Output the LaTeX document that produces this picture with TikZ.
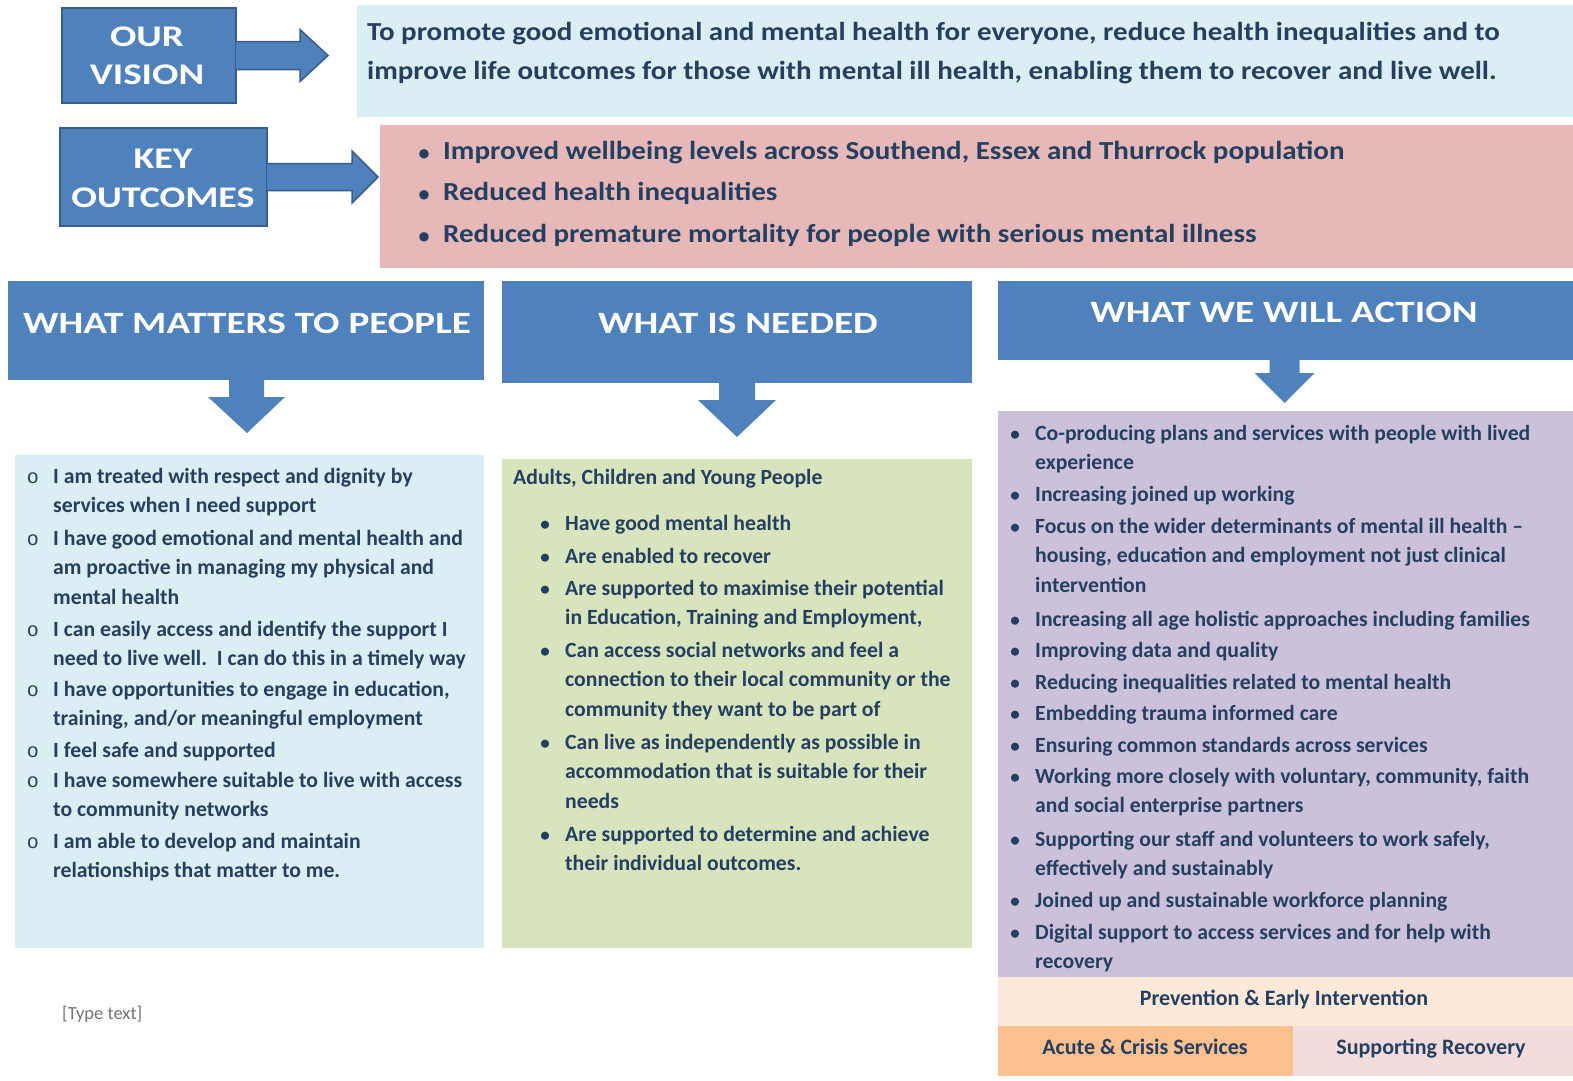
\documentclass[tikz,border=0pt]{standalone}
\usepackage{fontspec}
\setmainfont{Carlito}
\newfontfamily\hdfont{Carlito}[FakeStretch=1.265]
\newfontfamily\boxfont{Carlito}[FakeStretch=1.3]
\newfontfamily\topfont{Carlito}[FakeStretch=1.115]
\newfontfamily\monobul{Liberation Mono}
\usetikzlibrary{calc}
\definecolor{hdblue}{HTML}{4F81BD}
\definecolor{hdedge}{HTML}{385D8A}
\definecolor{txt}{HTML}{243F60}
\definecolor{lblue}{HTML}{DBEEF3}
\definecolor{pinkbox}{HTML}{E6B9B8}
\definecolor{greenbox}{HTML}{D7E4BD}
\definecolor{purplebox}{HTML}{CCC1DA}
\definecolor{peach}{HTML}{FDE9D9}
\definecolor{orangebox}{HTML}{FAC090}
\definecolor{palepink}{HTML}{F2DCDB}
\newcommand\lns[1]{\begin{tabular}[t]{@{}l@{}}#1\end{tabular}}
\newcommand\clns[1]{\begin{tabular}[t]{@{}c@{}}#1\end{tabular}}
\begin{document}
\begin{tikzpicture}[x=1pt,y=-1pt,
  panel/.style={anchor=north west, inner sep=0pt, outer sep=0pt},
  body/.style={anchor=base west, inner sep=0pt, text=txt, font=\fontsize{21.7}{29.8}\selectfont\bfseries},
  big/.style={anchor=base west, inner sep=0pt, text=txt, font=\fontsize{26}{39}\topfont\bfseries},
  dotb/.style={anchor=base, inner sep=0pt, text=txt, font=\fontsize{19}{30}\selectfont\bfseries},
  kdot/.style={anchor=base, inner sep=0pt, text=txt, font=\fontsize{22}{30}\selectfont\bfseries},
  circb/.style={anchor=base, inner sep=0pt, text=txt, font=\fontsize{20}{30}\monobul},
  hd/.style={anchor=base, inner sep=0pt, text=white, font=\fontsize{31}{38}\hdfont\bfseries},
  tag/.style={anchor=base, inner sep=0pt, text=txt, font=\fontsize{22}{24}\selectfont\bfseries},
  blockarrow/.style={fill=hdblue, draw=hdedge, line width=1.5pt, line join=miter},
  downarrow/.style={fill=hdblue, draw=none}
]
\useasboundingbox (0,0) rectangle (1573,1080);

% ---------- top band ----------
\node[panel, fill=lblue, minimum width=1216pt, minimum height=112pt] (visionbg) at (357,5) {};
\node[panel, fill=pinkbox, minimum width=1193pt, minimum height=143pt] (outcomebg) at (380,125) {};

\node[panel, fill=hdblue, draw=hdedge, line width=2pt, minimum width=174pt, minimum height=95pt] (ourvision) at (62,8) {};
\node[panel, fill=hdblue, draw=hdedge, line width=2pt, minimum width=207pt, minimum height=98pt] (keyout) at (60,128) {};

\draw[blockarrow] ($(ourvision.east)+(0,-14)$) -- ++(64,0) -- ++(0,-12) -- ($(ourvision.east)+(92,0)$)
  -- ($(ourvision.east)+(64,26)$) -- ++(0,-12) -- ($(ourvision.east)+(0,14)$);
\draw[blockarrow] ($(keyout.east)+(0,-13.5)$) -- ++(85,0) -- ++(0,-12.5) -- ($(keyout.east)+(111,0)$)
  -- ($(keyout.east)+(85,26)$) -- ++(0,-12.5) -- ($(keyout.east)+(0,13.5)$);

\node[hd, font=\fontsize{30}{38}\boxfont\bfseries] (ourvisiontxt) at (147,46) {\clns{OUR\\VISION}};
\node[hd, font=\fontsize{30}{39}\selectfont\hdfont\bfseries] (keyouttxt) at (163,168) {\clns{KEY\\OUTCOMES}};

\node[big] (visiontxt) at (367,40) {\lns{To promote good emotional and mental health for everyone, reduce health inequalities and to\\improve life outcomes for those with mental ill health, enabling them to recover and live well.}};

\node[kdot] (ko1b) at (424,160) {•};
\node[big] (ko1) at (443,159) {Improved wellbeing levels across Southend, Essex and Thurrock population};
\node[kdot] (ko2b) at (424,201) {•};
\node[big] (ko2) at (443,200) {Reduced health inequalities};
\node[kdot] (ko3b) at (424,243) {•};
\node[big] (ko3) at (443,242) {Reduced premature mortality for people with serious mental illness};

% ---------- column headers ----------
\node[panel, fill=hdblue, minimum width=476pt, minimum height=99pt] (hmatters) at (8,281) {};
\node[panel, fill=hdblue, minimum width=470pt, minimum height=102pt] (hneeded) at (502,281) {};
\node[panel, fill=hdblue, minimum width=575pt, minimum height=79pt] (haction) at (998,281) {};

\node[hd] (hmatterstxt) at (247,333) {WHAT MATTERS TO PEOPLE};
\node[hd] (hneededtxt) at (738,333) {WHAT IS NEEDED};
\node[hd] (hactiontxt) at (1284,322) {WHAT WE WILL ACTION};

\fill[downarrow] ($(hmatters.south)+(-17,0)$) -- ++(0,17) -- ++(-21,0) -- ($(hmatters.south)+(1,53)$)
  -- ($(hmatters.south)+(39,17)$) -- ++(-21,0) -- ($(hmatters.south)+(18,0)$) -- cycle;
\fill[downarrow] ($(hneeded.south)+(-18,0)$) -- ++(0,17) -- ++(-21,0) -- ($(hneeded.south)+(0,54)$)
  -- ($(hneeded.south)+(39,17)$) -- ++(-21,0) -- ($(hneeded.south)+(18,0)$) -- cycle;
\fill[downarrow] ($(haction.south)+(-16,0)$) -- ++(0,13) -- ++(-15,0) -- ($(haction.south)+(-1,43)$)
  -- ($(haction.south)+(29,13)$) -- ++(-15,0) -- ($(haction.south)+(14,0)$) -- cycle;

% ---------- content panels ----------
\node[panel, fill=lblue, minimum width=469pt, minimum height=493pt] (pmatters) at (15,455) {};
\node[panel, fill=greenbox, minimum width=470pt, minimum height=489pt] (pneeded) at (502,459) {};
\node[panel, fill=purplebox, minimum width=575pt, minimum height=566pt] (paction) at (998,411) {};
\node[panel, fill=peach, minimum width=575pt, minimum height=49pt] (prevent) at (998,977) {};
\node[panel, fill=orangebox, minimum width=295pt, minimum height=50pt] (acute) at (998,1026) {};
\node[panel, fill=palepink, minimum width=280pt, minimum height=50pt] (recov) at (1293,1026) {};

\node[tag] (preventtxt) at (1284,1005) {Prevention \& Early Intervention};
\node[tag] (acutetxt) at (1145,1054) {Acute \& Crisis Services};
\node[tag] (recovtxt) at (1431,1054) {Supporting Recovery};

% column 1
\node[circb] (m1b) at (33,483) {o};
\node[body] (m1) at (53,483) {\lns{I am treated with respect and dignity by\\services when I need support}};
\node[circb] (m2b) at (33,545) {o};
\node[body] (m2) at (53,545) {\lns{I have good emotional and mental health and\\am proactive in managing my physical and\\mental health}};
\node[circb] (m3b) at (33,636) {o};
\node[body] (m3) at (53,636) {\lns{I can easily access and identify the support I\\need to live well.\ \ I can do this in a timely way}};
\node[circb] (m4b) at (33,696) {o};
\node[body] (m4) at (53,696) {\lns{I have opportunities to engage in education,\\training, and/or meaningful employment}};
\node[circb] (m5b) at (33,757) {o};
\node[body] (m5) at (53,757) {I feel safe and supported};
\node[circb] (m6b) at (33,787) {o};
\node[body] (m6) at (53,787) {\lns{I have somewhere suitable to live with access\\to community networks}};
\node[circb] (m7b) at (33,848) {o};
\node[body] (m7) at (53,848) {\lns{I am able to develop and maintain\\relationships that matter to me.}};

% column 2
\node[body] (nhead) at (513,484) {Adults, Children and Young People};
\node[dotb] (n1b) at (545,530) {•};
\node[body] (n1) at (565,530) {Have good mental health};
\node[dotb] (n2b) at (545,563) {•};
\node[body] (n2) at (565,563) {Are enabled to recover};
\node[dotb] (n3b) at (545,595) {•};
\node[body] (n3) at (565,595) {\lns{Are supported to maximise their potential\\in Education, Training and Employment,}};
\node[dotb] (n4b) at (545,657) {•};
\node[body] (n4) at (565,657) {\lns{Can access social networks and feel a\\connection to their local community or the\\community they want to be part of}};
\node[dotb] (n5b) at (545,749) {•};
\node[body] (n5) at (565,749) {\lns{Can live as independently as possible in\\accommodation that is suitable for their\\needs}};
\node[dotb] (n6b) at (545,841) {•};
\node[body] (n6) at (565,841) {\lns{Are supported to determine and achieve\\their individual outcomes.}};

% column 3
\node[dotb] (a1b) at (1015,440) {•};
\node[body] (a1) at (1035,440) {\lns{Co-producing plans and services with people with lived\\experience}};
\node[dotb] (a2b) at (1015,501) {•};
\node[body] (a2) at (1035,501) {Increasing joined up working};
\node[dotb] (a3b) at (1015,533) {•};
\node[body] (a3) at (1035,533) {\lns{Focus on the wider determinants of mental ill health –\\housing, education and employment not just clinical\\intervention}};
\node[dotb] (a4b) at (1015,626) {•};
\node[body] (a4) at (1035,626) {Increasing all age holistic approaches including families};
\node[dotb] (a5b) at (1015,657) {•};
\node[body] (a5) at (1035,657) {Improving data and quality};
\node[dotb] (a6b) at (1015,689) {•};
\node[body] (a6) at (1035,689) {Reducing inequalities related to mental health};
\node[dotb] (a7b) at (1015,720) {•};
\node[body] (a7) at (1035,720) {Embedding trauma informed care};
\node[dotb] (a8b) at (1015,752) {•};
\node[body] (a8) at (1035,752) {Ensuring common standards across services};
\node[dotb] (a9b) at (1015,783) {•};
\node[body] (a9) at (1035,783) {\lns{Working more closely with voluntary, community, faith\\and social enterprise partners}};
\node[dotb] (a10b) at (1015,846) {•};
\node[body] (a10) at (1035,846) {\lns{Supporting our staff and volunteers to work safely,\\effectively and sustainably}};
\node[dotb] (a11b) at (1015,907) {•};
\node[body] (a11) at (1035,907) {Joined up and sustainable workforce planning};
\node[dotb] (a12b) at (1015,939) {•};
\node[body] (a12) at (1035,939) {\lns{Digital support to access services and for help with\\recovery}};

\node[anchor=base west, inner sep=0pt, text=black!55, font=\fontsize{18.5}{20}\selectfont] (typetext) at (62,1019) {[Type text]};
\end{tikzpicture}
\end{document}
